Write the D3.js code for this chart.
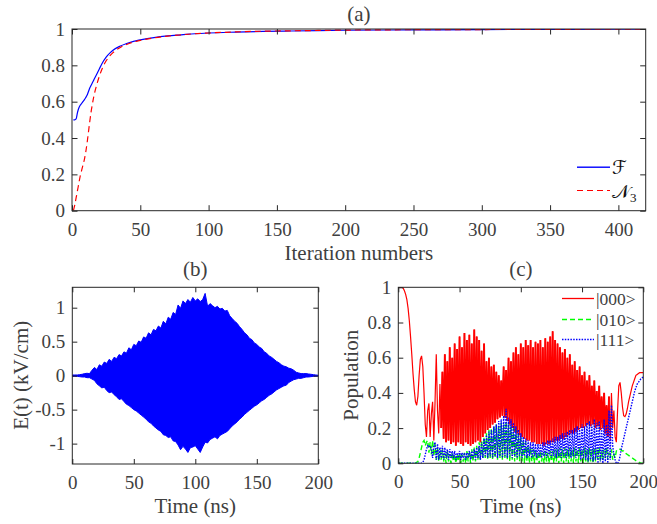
<!DOCTYPE html>
<html><head><meta charset="utf-8">
<script src="https://cdn.jsdelivr.net/npm/d3@7"></script>
<style>
html,body{margin:0;padding:0;background:#fff;}
svg{display:block;font-family:"Liberation Serif","Times New Roman",serif;}
</style></head><body>
<svg id="chart" width="657" height="524"></svg>
<script>
// ---------- Panel (a): convergence vs iteration ----------
const iterations = [1,2,3,4,5,6,7,8,9,10,11,12,13,14,15,16,18,20,22,25,28,30,35,40,45,50,60,70,80,90,100,120,140,160,180,200,250,300,350,400,420];
const fidelityF = [0.50,0.50,0.505,0.54,0.565,0.58,0.59,0.60,0.61,0.622,0.635,0.655,0.675,0.69,0.705,0.72,0.75,0.78,0.81,0.845,0.87,0.883,0.905,0.92,0.932,0.94,0.953,0.962,0.968,0.974,0.978,0.983,0.987,0.989,0.991,0.993,0.995,0.997,0.998,0.999,0.999];
const measureN3 = [0.0,0.03,0.07,0.11,0.15,0.19,0.22,0.25,0.28,0.32,0.37,0.43,0.49,0.545,0.59,0.63,0.69,0.74,0.78,0.825,0.855,0.87,0.897,0.915,0.928,0.937,0.951,0.961,0.968,0.974,0.978,0.984,0.988,0.990,0.992,0.994,0.996,0.997,0.998,0.999,0.999];
const ticksA_x = [0,50,100,150,200,250,300,350,400];
const ticksA_y = [0,0.2,0.4,0.6,0.8,1];

// ---------- Panel (b): field envelope (kV/cm), sampled every 2 ns ----------
const eTime = [0,2,4,6,8,10,12,14,16,18,20,22,24,26,28,30,32,34,36,38,40,42,44,46,48,50,52,54,56,58,60,62,64,66,68,70,72,74,76,78,80,82,84,86,88,90,92,94,96,98,100,102,104,106,108,110,112,114,116,118,120,122,124,126,128,130,132,134,136,138,140,142,144,146,148,150,152,154,156,158,160,162,164,166,168,170,172,174,176,178,180,182,184,186,188,190,192,194,196,198,200];
const eUpper = [0.01,0.01,0.01,0.015,0.02,0.03,0.035,0.03,0.08,0.12,
0.09,0.16,0.14,0.2,0.18,0.24,0.21,0.27,0.25,0.31,
0.29,0.35,0.33,0.41,0.38,0.46,0.44,0.51,0.49,0.57,
0.55,0.63,0.6,0.68,0.66,0.73,0.7,0.8,0.76,0.86,
0.83,0.93,0.9,1.04,0.99,1.1,1.06,1.12,1.08,1.15,
1.1,1.13,1.09,1.12,1.21,1.02,1.06,1.03,1.0,1.02,
0.98,0.99,0.95,0.96,0.88,0.84,0.8,0.77,0.72,0.68,
0.63,0.6,0.55,0.53,0.48,0.46,0.42,0.4,0.35,0.33,
0.29,0.27,0.24,0.21,0.19,0.16,0.14,0.13,0.11,0.1,
0.08,0.05,0.04,0.03,0.03,0.03,0.025,0.02,0.015,0.01,
0.005];
const eLower = [-0.01,-0.01,-0.01,-0.015,-0.02,-0.02,-0.03,-0.03,-0.05,-0.07,
-0.12,-0.15,-0.18,-0.17,-0.22,-0.25,-0.24,-0.28,-0.31,-0.35,
-0.34,-0.38,-0.42,-0.44,-0.47,-0.5,-0.52,-0.55,-0.58,-0.61,
-0.64,-0.68,-0.7,-0.74,-0.77,-0.8,-0.82,-0.87,-0.88,-0.91,
-0.9,-0.96,-0.97,-1.02,-1.09,-1.04,-1.08,-1.13,-1.06,-1.05,
-1.03,-1.08,-1.13,-1.05,-0.98,-0.99,-0.94,-0.92,-0.9,-0.93,
-0.88,-0.86,-0.84,-0.82,-0.78,-0.74,-0.71,-0.68,-0.64,-0.61,
-0.57,-0.54,-0.51,-0.48,-0.45,-0.43,-0.4,-0.37,-0.35,-0.32,
-0.29,-0.27,-0.24,-0.21,-0.19,-0.17,-0.15,-0.14,-0.1,-0.08,
-0.06,-0.05,-0.04,-0.04,-0.03,-0.02,-0.02,-0.015,-0.01,-0.01,
-0.005];
const ticksB_y = [-1,-0.5,0,0.5,1];
const ticksTime = [0,50,100,150,200];

// ---------- Panel (c): populations, sampled every 1 ns (t = 0..200) ----------
const popTime = d3.range(0, 201);
const pop000 = [1,1,1,1,0.995,0.98,0.96,0.93,0.88,0.81,
0.72,0.62,0.51,0.42,0.35,0.33,0.38,0.50,0.59,0.61,
0.55,0.40,0.22,0.15,0.30,0.34,0.15,0.28,0.35,0.13,
0.35,0.62,0.30,0.17,0.45,0.20,0.52,0.14,0.62,0.12,
0.58,0.13,0.66,0.11,0.60,0.12,0.68,0.10,0.65,0.12,
0.72,0.11,0.66,0.10,0.74,0.12,0.70,0.11,0.73,0.10,
0.68,0.11,0.76,0.12,0.72,0.13,0.70,0.12,0.64,0.15,
0.68,0.17,0.58,0.19,0.60,0.20,0.55,0.22,0.56,0.23,
0.52,0.25,0.50,0.26,0.47,0.27,0.55,0.26,0.53,0.24,
0.60,0.22,0.58,0.20,0.63,0.18,0.66,0.17,0.62,0.16,
0.68,0.15,0.66,0.14,0.70,0.13,0.67,0.13,0.70,0.12,
0.66,0.12,0.69,0.11,0.68,0.11,0.70,0.11,0.66,0.10,
0.71,0.11,0.69,0.11,0.72,0.12,0.75,0.12,0.70,0.13,
0.68,0.13,0.66,0.14,0.63,0.14,0.65,0.15,0.60,0.16,
0.62,0.17,0.56,0.17,0.58,0.18,0.53,0.19,0.55,0.20,
0.50,0.20,0.52,0.21,0.47,0.22,0.50,0.21,0.44,0.22,
0.47,0.20,0.41,0.21,0.44,0.19,0.38,0.20,0.40,0.17,
0.33,0.15,0.38,0.13,0.40,0.20,0.30,0.15,0.12,0.30,
0.44,0.46,0.40,0.32,0.27,0.265,0.28,0.31,0.35,0.38,
0.41,0.44,0.46,0.48,0.50,0.505,0.51,0.515,0.515,0.515,0.515];
const pop010 = [0,0,0,0,0,0,0,0,0,0,
0,0,0,0,0,0.005,0.01,0.03,0.06,0.09,
0.12,0.13,0.10,0.12,0.13,0.06,0.12,0.05,0.13,0.04,
0.11,0.02,0.09,0.01,0.07,0.02,0.08,0.01,0.06,0.0,
0.07,0.01,0.05,0.0,0.06,0.01,0.05,0.0,0.05,0.01,
0.06,0.0,0.05,0.01,0.06,0.0,0.07,0.01,0.07,0.0,
0.08,0.01,0.09,0.01,0.10,0.02,0.12,0.02,0.13,0.03,
0.15,0.03,0.17,0.02,0.19,0.03,0.20,0.02,0.21,0.03,
0.22,0.02,0.21,0.03,0.23,0.02,0.22,0.03,0.24,0.02,
0.22,0.01,0.21,0.02,0.20,0.01,0.19,0.02,0.17,0.01,
0.15,0.01,0.13,0.0,0.12,0.01,0.10,0.0,0.09,0.01,
0.08,0.0,0.07,0.01,0.06,0.0,0.07,0.01,0.06,0.0,
0.07,0.01,0.06,0.0,0.07,0.01,0.07,0.0,0.08,0.01,
0.08,0.0,0.09,0.01,0.08,0.0,0.09,0.01,0.08,0.0,
0.09,0.01,0.08,0.0,0.09,0.01,0.08,0.0,0.09,0.01,
0.08,0.0,0.09,0.01,0.08,0.0,0.09,0.01,0.08,0.0,
0.09,0.01,0.08,0.02,0.09,0.01,0.07,0.02,0.08,0.03,
0.09,0.02,0.06,0.03,0.08,0.02,0.05,0.03,0.07,0.08,
0.08,0.08,0.075,0.07,0.07,0.06,0.055,0.05,0.045,0.04,
0.035,0.03,0.025,0.02,0.015,0.01,0.007,0.004,0.002,0.001,0];
const pop111 = [0,0,0,0,0,0,0,0,0,0,
0,0,0,0,0,0,0,0,0,0,
0.005,0.02,0.05,0.08,0.10,0.09,0.10,0.08,0.03,0.10,
0.12,0.02,0.11,0.02,0.09,0.03,0.10,0.02,0.09,0.03,
0.08,0.02,0.08,0.03,0.07,0.03,0.07,0.02,0.06,0.03,
0.07,0.02,0.06,0.03,0.06,0.02,0.06,0.03,0.07,0.02,
0.07,0.03,0.08,0.02,0.09,0.03,0.10,0.02,0.12,0.03,
0.14,0.04,0.16,0.03,0.18,0.04,0.19,0.03,0.21,0.04,
0.22,0.03,0.24,0.04,0.25,0.03,0.27,0.04,0.31,0.03,
0.26,0.04,0.25,0.03,0.23,0.04,0.21,0.03,0.19,0.04,
0.17,0.03,0.15,0.04,0.14,0.03,0.13,0.04,0.12,0.03,
0.12,0.04,0.11,0.03,0.11,0.04,0.11,0.03,0.12,0.04,
0.12,0.03,0.13,0.04,0.13,0.03,0.14,0.04,0.15,0.03,
0.15,0.04,0.16,0.03,0.17,0.04,0.17,0.03,0.18,0.04,
0.19,0.03,0.19,0.04,0.20,0.03,0.21,0.04,0.20,0.02,
0.22,0.03,0.21,0.02,0.23,0.01,0.24,0.02,0.22,0.01,
0.25,0.02,0.23,0.0,0.24,0.01,0.20,0.0,0.25,0.01,
0.22,0.0,0.30,0.02,0.33,0.10,0.05,0.02,0.0,0.0,
0.01,0.04,0.08,0.11,0.14,0.17,0.20,0.23,0.26,0.29,
0.32,0.35,0.38,0.41,0.43,0.45,0.46,0.47,0.48,0.485,0.49];
const ticksC_y = [0,0.2,0.4,0.6,0.8,1];
const legendC = ["|000>","|010>","|111>"];

// ---------- drawing ----------
const svg = d3.select("#chart");
const AXC = "#262626", TXC = "#404040";
const TICKFS = 19, LABFS = 21;

function axesBox(g, x, y, xt, yt, tickLen, fmtY) {
  const [x0, x1] = x.range(), [y0, y1] = y.range();
  const style = sel => {
    sel.select(".domain").remove();
    sel.selectAll("line").attr("stroke", AXC).attr("stroke-width", 1);
    sel.selectAll("text").attr("fill", TXC).attr("font-size", TICKFS)
      .attr("font-family", '"Liberation Serif","Times New Roman",serif');
    sel.attr("font-size", null).attr("font-family", null);
  };
  g.append("g").attr("transform", `translate(0,${y0})`)
    .call(d3.axisBottom(x).tickValues(xt).tickFormat(d => String(d)).tickSize(-tickLen).tickPadding(11.5)).call(style);
  g.append("g").attr("transform", `translate(0,${y1})`)
    .call(d3.axisTop(x).tickValues(xt).tickFormat("").tickSize(-tickLen)).call(style);
  g.append("g").attr("transform", `translate(${x0},0)`)
    .call(d3.axisLeft(y).tickValues(yt).tickFormat(fmtY).tickSize(-tickLen).tickPadding(7)).call(style);
  g.append("g").attr("transform", `translate(${x1},0)`)
    .call(d3.axisRight(y).tickValues(yt).tickFormat("").tickSize(-tickLen)).call(style);
  g.append("rect").attr("x", x0).attr("y", y1).attr("width", x1 - x0).attr("height", y0 - y1)
    .attr("fill", "none").attr("stroke", AXC).attr("stroke-width", 1);
}
function clip(id, x, y) {
  const [x0, x1] = x.range(), [y0, y1] = y.range();
  svg.append("clipPath").attr("id", id).append("rect")
    .attr("x", x0).attr("y", y1).attr("width", x1 - x0).attr("height", y0 - y1);
  return `url(#${id})`;
}
function title(txt, cx, by) {
  svg.append("text").attr("x", cx).attr("y", by).attr("text-anchor", "middle")
    .attr("font-size", LABFS).attr("fill", TXC).text(txt);
}

// Panel (a)
{
  const x = d3.scaleLinear().domain([0, 420]).range([72, 645.7]);
  const y = d3.scaleLinear().domain([0, 1]).range([210.7, 29]);
  const g = svg.append("g");
  const cp = clip("clipA", x, y);
  const line = d3.line().x((d, i) => x(iterations[i])).y(d => y(d)).curve(d3.curveMonotoneX);
  g.append("path").attr("clip-path", cp).attr("d", line(fidelityF))
    .attr("fill", "none").attr("stroke", "#0000ff").attr("stroke-width", 1.2);
  g.append("path").attr("clip-path", cp).attr("d", line(measureN3))
    .attr("fill", "none").attr("stroke", "#ff0000").attr("stroke-width", 1.2).attr("stroke-dasharray", "6,4");
  axesBox(g, x, y, ticksA_x, ticksA_y, 5.5, d => String(d));
  title("(a)", (x.range()[0] + x.range()[1]) / 2, 20.5);
  svg.append("text").attr("x", 358.9).attr("y", 260).attr("text-anchor", "middle")
    .attr("font-size", LABFS).attr("fill", TXC).text("Iteration numbers");
  // legend
  const lg = svg.append("g");
  lg.append("rect").attr("x", 577).attr("y", 166.5).attr("width", 33).attr("height", 1.4)
    .attr("fill", "#0000ff");
  lg.append("line").attr("x1", 577).attr("x2", 610).attr("y1", 190.5).attr("y2", 190.5)
    .attr("stroke", "#ff0000").attr("stroke-width", 1.2).attr("stroke-dasharray", "6,4");
  lg.append("text").attr("x", 612).attr("y", 174).attr("font-size", 19).attr("fill", "#111")
    .attr("font-family", '"DejaVu Serif","DejaVu Sans",serif').text("ℱ");
  const t2 = lg.append("text").attr("x", 612).attr("y", 197.5).attr("font-size", 19).attr("fill", "#111")
    .attr("font-family", '"DejaVu Serif","DejaVu Sans",serif');
  t2.append("tspan").text("𝒩");
  t2.append("tspan").attr("font-size", 13).attr("dy", 4).attr("font-family", '"Liberation Serif",serif').text("3");
}

// Panel (b)
{
  const x = d3.scaleLinear().domain([0, 200]).range([72.3, 318.3]);
  const y = d3.scaleLinear().domain([-1.3, 1.3]).range([464, 287.3]);
  const g = svg.append("g");
  const cp = clip("clipB", x, y);
  const area = d3.area().x((d, i) => x(eTime[i])).y0((d, i) => y(eLower[i])).y1(d => y(d));
  g.append("path").attr("clip-path", cp).attr("d", area(eUpper))
    .attr("fill", "#0000ff").attr("stroke", "#0000ff").attr("stroke-width", 1);
  axesBox(g, x, y, ticksTime, ticksB_y, 5, d => String(d));
  title("(b)", 195.3, 275.5);
  svg.append("text").attr("x", 195.3).attr("y", 512.5).attr("text-anchor", "middle")
    .attr("font-size", LABFS).attr("fill", TXC).text("Time (ns)");
  svg.append("text").attr("transform", "translate(27.5,375.3) rotate(-90)").attr("text-anchor", "middle")
    .attr("font-size", LABFS).attr("fill", TXC).text("E(t) (kV/cm)");
}

// Panel (c)
{
  const x = d3.scaleLinear().domain([0, 200]).range([398.3, 643.3]);
  const y = d3.scaleLinear().domain([0, 1]).range([463.3, 287.3]);
  const g = svg.append("g");
  const cp = clip("clipC", x, y);
  const line = d3.line().x((d, i) => x(popTime[i])).y(d => y(d));
  const styles = [
    {data: pop000, color: "#ff0000", dash: null, w: 1.2},
    {data: pop010, color: "#00ff00", dash: "5,3", w: 1.4},
    {data: pop111, color: "#0000ff", dash: "1.5,1.3", w: 1.4}
  ];
  // red: thin for the smooth parts, thicker where the trace oscillates densely
  g.append("path").attr("clip-path", cp).attr("d", line(pop000))
    .attr("fill", "none").attr("stroke", "#ff0000").attr("stroke-width", 1.2);
  const denseLine = d3.line().defined((d, i) => popTime[i] >= 35 && popTime[i] <= 172)
    .x((d, i) => x(popTime[i])).y(d => y(d));
  g.append("path").attr("clip-path", cp).attr("d", denseLine(pop000))
    .attr("fill", "none").attr("stroke", "#ff0000").attr("stroke-width", 1.9);
  styles.slice(1).forEach(s => {
    g.append("path").attr("clip-path", cp).attr("d", line(s.data))
      .attr("fill", "none").attr("stroke", s.color).attr("stroke-width", s.w)
      .attr("stroke-dasharray", s.dash);
  });
  axesBox(g, x, y, ticksTime, ticksC_y, 5, d => String(d));
  title("(c)", 520.8, 275.5);
  svg.append("text").attr("x", 520.8).attr("y", 512.5).attr("text-anchor", "middle")
    .attr("font-size", LABFS).attr("fill", TXC).text("Time (ns)");
  svg.append("text").attr("transform", "translate(358,375.3) rotate(-90)").attr("text-anchor", "middle")
    .attr("font-size", LABFS).attr("fill", TXC).text("Population");
  // legend
  const ly = [298.5, 319.5, 339.5];
  const lg = svg.append("g");
  styles.forEach((s, i) => {
    lg.append("line").attr("x1", 562).attr("x2", 594).attr("y1", ly[i]).attr("y2", ly[i])
      .attr("stroke", s.color).attr("stroke-width", 1.3).attr("stroke-dasharray", s.dash);
    lg.append("text").attr("x", 596).attr("y", ly[i]).attr("dy", "0.35em")
      .attr("font-size", 17.5).attr("fill", TXC).text(legendC[i]);
  });
}
</script>
</body></html>
